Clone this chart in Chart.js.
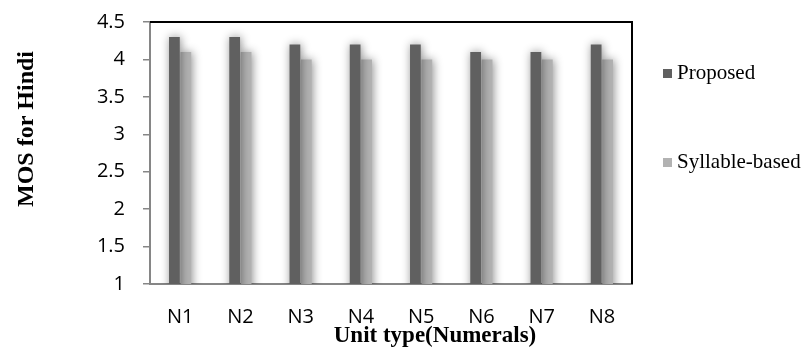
<!DOCTYPE html>
<html>
<head>
<meta charset="utf-8">
<script src="https://cdn.jsdelivr.net/npm/chart.js@4.4.0/dist/chart.umd.min.js"></script>
<style>
  html, body { margin: 0; padding: 0; background: #ffffff; }
  #wrap { width: 805px; height: 356px; position: relative; }
</style>
</head>
<body>
<div id="wrap"><canvas id="c" width="805" height="356"></canvas></div>
<script>
const categories = ["N1", "N2", "N3", "N4", "N5", "N6", "N7", "N8"];
const proposed = [4.3, 4.3, 4.2, 4.2, 4.2, 4.1, 4.1, 4.2];
const syllableBased = [4.1, 4.1, 4.0, 4.0, 4.0, 4.0, 4.0, 4.0];
const seriesNames = ["Proposed", "Syllable-based"];
const yTitle = "MOS for Hindi";
const xTitle = "Unit type(Numerals)";
const yMin = 1, yMax = 4.5, yStep = 0.5;

const colors = ["#606060", "#b2b2b2"];

const shadowPlugin = {
  id: 'shadow',
  beforeDatasetsDraw(chart) {
    const ctx = chart.ctx;
    ctx.save();
    ctx.shadowColor = 'rgba(0,0,0,0.45)';
    ctx.shadowBlur = 10;
    ctx.shadowOffsetX = 1;
    ctx.shadowOffsetY = 0;
  },
  afterDatasetsDraw(chart) {
    chart.ctx.restore();
  }
};

const framePlugin = {
  id: 'frame',
  afterDraw(chart) {
    const ctx = chart.ctx;
    const a = chart.chartArea;
    ctx.save();
    ctx.strokeStyle = '#000000';
    ctx.lineWidth = 2;
    ctx.beginPath();
    ctx.moveTo(a.left, a.top);
    ctx.lineTo(a.right, a.top);
    ctx.lineTo(a.right, a.bottom);
    ctx.stroke();
    ctx.fillStyle = '#000000';
    ctx.font = 'bold 23px "Liberation Serif", "Times New Roman", serif';
    ctx.textAlign = 'center';
    ctx.textBaseline = 'alphabetic';
    ctx.fillText(xTitle, 435, 342);
    ctx.save();
    ctx.font = 'bold 24px "Liberation Serif", "Times New Roman", serif';
    ctx.translate(33, 129);
    ctx.rotate(-Math.PI / 2);
    ctx.fillText(yTitle, 0, 0);
    ctx.restore();
    ctx.font = '21px "Liberation Serif", "Times New Roman", serif';
    ctx.textAlign = 'left';
    const legendY = [79, 168];
    seriesNames.forEach((n, i) => {
      ctx.fillStyle = colors[i];
      ctx.fillRect(663, legendY[i] - 10, 9, 9);
      ctx.fillStyle = '#000000';
      ctx.fillText(n, 677, legendY[i]);
    });
    ctx.restore();
  }
};

new Chart(document.getElementById('c'), {
  type: 'bar',
  data: {
    labels: categories,
    datasets: [
      { label: seriesNames[0], data: proposed, backgroundColor: colors[0], borderWidth: 0 },
      { label: seriesNames[1], data: syllableBased, backgroundColor: colors[1], borderWidth: 0 }
    ]
  },
  options: {
    responsive: false,
    animation: false,
    devicePixelRatio: 1,
    layout: { padding: { left: 0, right: 173, top: 22, bottom: 0 } },
    plugins: {
      legend: { display: false },
      tooltip: { enabled: false },
      title: { display: false }
    },
    datasets: {
      bar: { categoryPercentage: 0.38, barPercentage: 0.94 }
    },
    scales: {
      x: {
        grid: { display: false, drawTicks: false },
        border: { display: true, color: '#868686', width: 2 },
        ticks: {
          color: '#000000',
          padding: 21,
          font: { family: '"Open Sans", "Liberation Sans", sans-serif', size: 20 }
        },
        afterFit(scale) { scale.height = 72; scale.paddingLeft = 0; scale.paddingRight = 0; }
      },
      y: {
        min: yMin,
        max: yMax,
        grid: { drawOnChartArea: false, drawTicks: true, tickLength: 7, color: '#868686', lineWidth: 1.5 },
        border: { display: true, color: '#868686', width: 2 },
        ticks: {
          stepSize: yStep,
          color: '#000000',
          padding: 18,
          font: { family: '"Open Sans", "Liberation Sans", sans-serif', size: 20 },
          callback: (v) => String(Math.round(v * 10) / 10)
        },
        afterFit(scale) { scale.width = 150; scale.paddingTop = 0; scale.paddingBottom = 0; }
      }
    }
  },
  plugins: [shadowPlugin, framePlugin]
});
</script>
</body>
</html>
